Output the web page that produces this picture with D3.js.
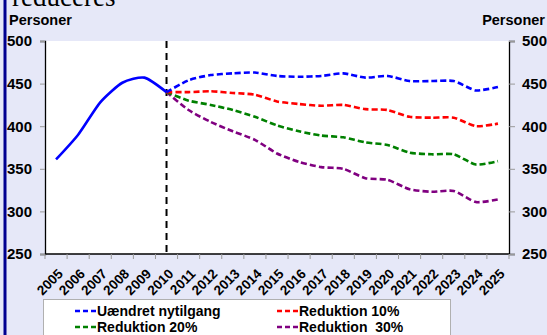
<!DOCTYPE html>
<head>
<meta charset="utf-8">
<style>
body { margin: 0; background: #e6e8f8; }
svg { display: block; font-family: Arial, "Liberation Sans", sans-serif; }
.lbl { font-weight: bold; fill: #000; }
</style>
</head>
<body>
<script src="https://d3js.org/d3.v7.min.js"></script>
<script>

// categories
var years = ["2005","2006","2007","2008","2009","2010","2011","2012","2013","2014","2015",
             "2016","2017","2018","2019","2020","2021","2022","2023","2024","2025"];
var histYears = ["2005","2006","2007","2008","2009","2010"];
var projYears = ["2010","2011","2012","2013","2014","2015","2016","2017",
                 "2018","2019","2020","2021","2022","2023","2024","2025"];

// series values
var historik  = [361, 390, 428, 451, 457, 440];
var uaendret  = [440, 454, 460, 462, 463, 459, 458, 459, 462, 457, 459, 453, 453, 453, 442, 446];
var red10     = [440, 440, 441, 439, 437, 429, 426, 424, 425, 420, 419, 411, 410, 410, 400, 403];
var red20     = [440, 430, 425, 419, 411, 401, 394, 389, 387, 381, 378, 369, 367, 367, 355, 359];
var red30     = [440, 419, 405, 394, 384, 368, 358, 352, 350, 339, 337, 326, 323, 324, 311, 314];

// tick labels
var yTicks = [250, 300, 350, 400, 450, 500];
var legendNames = ["Uændret nytilgang", "Reduktion 10%", "Reduktion 20%", "Reduktion  30%"];
var splitYear = "2010";

var W = 547, H = 335;
var pLeft = 45, pRight = 509, pTop = 41, pBottom = 254;

var svg = d3.select("body").append("svg")
    .attr("width", W)
    .attr("height", H);

// background + left bar
svg.append("rect").attr("width", W).attr("height", H).attr("fill", "#e6e8f8");
svg.append("rect").attr("x", 3.5).attr("y", 0).attr("width", 3).attr("height", H).attr("fill", "#000090");

// cut-off title
svg.append("text")
    .attr("x", 12).attr("y", 6)
    .style("font-family", "'Liberation Serif', 'DejaVu Serif', serif")
    .style("font-size", "27px")
    .text("reduceres");

var x = d3.scaleBand().domain(years).range([pLeft, pRight]).padding(0);
var y = d3.scaleLinear().domain([250, 500]).range([pBottom, pTop]);
var cx = function(d) { return x(d) + x.bandwidth() / 2; };

// plot area
svg.append("rect")
    .attr("x", pLeft).attr("y", pTop)
    .attr("width", pRight - pLeft).attr("height", pBottom - pTop)
    .attr("fill", "#fff");

// axes
var yl = svg.append("g").attr("transform", "translate(" + pLeft + ",0)")
    .call(d3.axisLeft(y).tickValues(yTicks).tickSize(5).tickPadding(8));
var yr = svg.append("g").attr("transform", "translate(" + pRight + ",0)")
    .call(d3.axisRight(y).tickValues(yTicks).tickSize(6).tickPadding(7));
[yl, yr].forEach(function(g) {
  g.select(".domain").attr("stroke", "#000").attr("stroke-width", 1.3);
  g.selectAll(".tick line").attr("stroke", "#999");
  g.selectAll(".tick text").attr("class", "lbl").style("font-size", "15px");
});

var xb = svg.append("g").attr("transform", "translate(0," + pBottom + ")");
xb.append("line").attr("x1", pLeft).attr("x2", pRight).attr("stroke", "#000").attr("stroke-width", 1.3);
xb.selectAll(".xt").data(years.concat(["end"])).enter().append("line")
    .attr("x1", function(d, i) { return i < years.length ? x(d) : pRight; })
    .attr("x2", function(d, i) { return i < years.length ? x(d) : pRight; })
    .attr("y1", 0).attr("y2", 5).attr("stroke", "#999");
xb.selectAll(".xl").data(years).enter().append("text")
    .attr("class", "lbl")
    .style("font-size", "13.5px")
    .attr("text-anchor", "end")
    .attr("transform", function(d) { return "translate(" + (cx(d) + 1) + ",14) rotate(-45)"; })
    .attr("dy", "0.7em")
    .text(function(d) { return d; });

// Personer labels
svg.append("text").attr("class", "lbl").style("font-size", "14.5px")
    .attr("x", 9).attr("y", 25).text("Personer");
svg.append("text").attr("class", "lbl").style("font-size", "14.5px")
    .attr("x", 545).attr("y", 25).attr("text-anchor", "end").text("Personer");

// 2010 marker
svg.append("line")
    .attr("x1", cx(splitYear)).attr("x2", cx(splitYear))
    .attr("y1", pTop).attr("y2", pBottom)
    .attr("stroke", "#000").attr("stroke-width", 2)
    .attr("stroke-dasharray", "7,5");

var line = d3.line()
    .x(function(d) { return cx(d[0]); })
    .y(function(d) { return y(d[1]); })
    .curve(d3.curveCardinal.tension(0.35));

function pairs(cats, vals) { return cats.map(function(c, i) { return [c, vals[i]]; }); }

var proj = [
  { vals: red30, color: "#800080" },
  { vals: red20, color: "#008000" },
  { vals: red10, color: "#ff0000" },
  { vals: uaendret, color: "#0000ff" }
];
proj.forEach(function(s) {
  svg.append("path")
      .datum(pairs(projYears, s.vals))
      .attr("fill", "none")
      .attr("stroke", s.color)
      .attr("stroke-width", 2.6)
      .attr("stroke-dasharray", "6,3")
      .attr("d", line);
});

svg.append("path")
    .datum(pairs(histYears, historik))
    .attr("fill", "none")
    .attr("stroke", "#0000ff")
    .attr("stroke-width", 2.6)
    .attr("d", line);

// legend
svg.append("rect")
    .attr("x", 43.5).attr("y", 299.5).attr("width", 407).attr("height", 40)
    .attr("fill", "#fff").attr("stroke", "#b0b0b0");
var legColors = ["#0000ff", "#ff0000", "#008000", "#800080"];
var legPos = [[75, 311], [277, 311], [75, 327], [277, 327]];
legendNames.forEach(function(n, i) {
  var p = legPos[i];
  svg.append("line")
      .attr("x1", p[0]).attr("x2", p[0] + 21)
      .attr("y1", p[1]).attr("y2", p[1])
      .attr("stroke", legColors[i]).attr("stroke-width", 2.6)
      .attr("stroke-dasharray", "5,3");
  svg.append("text").attr("class", "lbl").style("font-size", "14px")
      .style("white-space", "pre")
      .attr("x", p[0] + 22).attr("y", p[1]).attr("dy", "0.36em")
      .text(n);
});

</script>
</body>
